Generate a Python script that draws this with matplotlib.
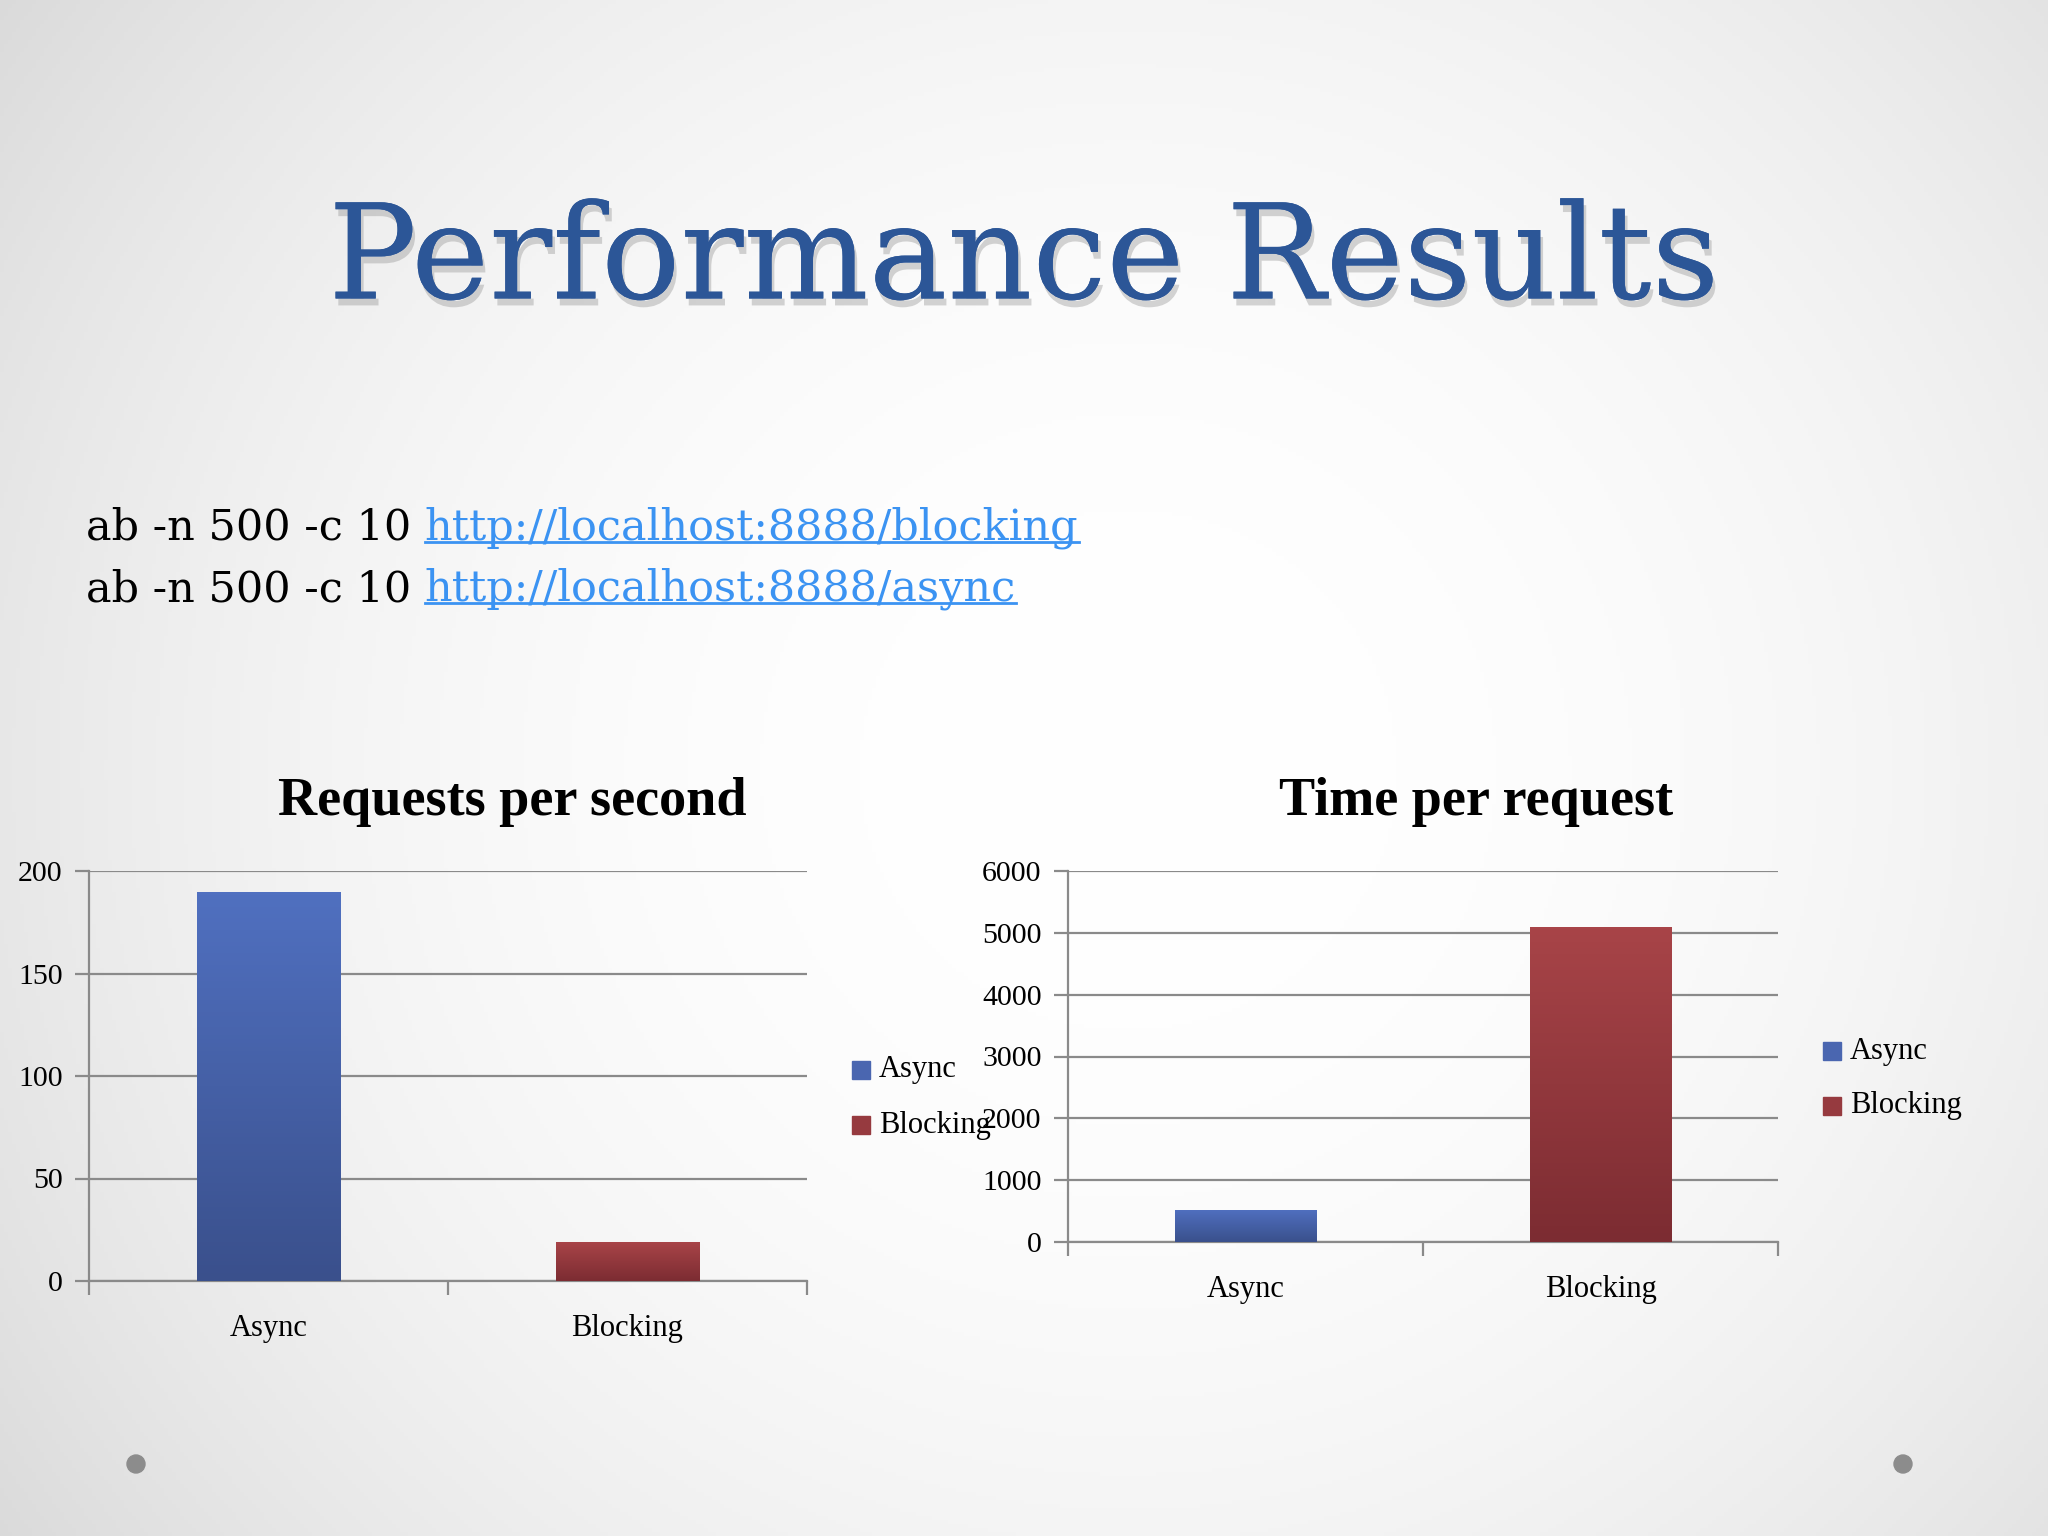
import numpy as np
import matplotlib
matplotlib.use('Agg')
import matplotlib.pyplot as plt
import matplotlib.patheffects as pe
from matplotlib.lines import Line2D
from matplotlib.patches import Ellipse, Rectangle

# data
categories = ['Async', 'Blocking']
requests_per_second = [190, 19]
time_per_request = [525, 5100]
rps_ticks = [0, 50, 100, 150, 200]
tpr_ticks = [0, 1000, 2000, 3000, 4000, 5000, 6000]
commands = ['ab -n 500 -c 10 ', 'ab -n 500 -c 10 ']
links = ['http://localhost:8888/blocking', 'http://localhost:8888/async']

W, H = 2048, 1536
serif = ['DejaVu Serif']
narrow = ['Liberation Serif', 'DejaVu Serif']
blue_top, blue_bot = np.array([80, 112, 192]) / 255, np.array([58, 80, 140]) / 255
red_top, red_bot = np.array([168, 68, 72]) / 255, np.array([124, 44, 50]) / 255

fig = plt.figure(figsize=(W / 100, H / 100), dpi=100)

# slide background: soft radial gradient
bg = fig.add_axes([0, 0, 1, 1], zorder=-10)
yy, xx = np.mgrid[0:H:4, 0:W:4]
r = np.sqrt(((xx - W * 0.55) / (W * 0.62)) ** 2 + ((yy - H * 0.5) / (H * 0.8)) ** 2)
shade = 1.0 - 0.12 * np.clip(r, 0, 1.2) ** 2.2
bg.imshow(np.dstack([shade, shade, shade]), extent=[0, W, H, 0], aspect='auto')
bg.set_xlim(0, W)
bg.set_ylim(H, 0)
bg.axis('off')

# main title with drop shadow
fig.text(0.5, 1 - 262 / H, 'Performance Results', family=serif, fontsize=95,
         color='#2c5697', ha='center', va='center',
         path_effects=[pe.withSimplePatchShadow(offset=(2, -5), shadow_rgbFace='#a0a0a0', alpha=0.45),
                       pe.Normal()])

# benchmark commands and underlined links
fig.canvas.draw()
renderer = fig.canvas.get_renderer()
for i, (cmd, link) in enumerate(zip(commands, links)):
    ypix = 528 + i * 61
    t = fig.text(86 / W, 1 - ypix / H, cmd, family=serif, fontsize=31, color='black',
                 ha='left', va='center')
    bb = t.get_window_extent(renderer)
    lt = fig.text(bb.x1 / W, 1 - ypix / H, link, family=serif, fontsize=31,
                  color='#3b93f2', ha='left', va='center')
    lb = lt.get_window_extent(renderer)
    uy = lb.y0 + 7
    fig.add_artist(Line2D([lb.x0 / W, lb.x1 / W], [uy / H, uy / H], color='#3b93f2', lw=2))


def bar_chart(rect, values, ticks, title, title_x, legend_pos):
    ax = fig.add_axes(rect)
    ax.set_facecolor('none')
    x = np.arange(len(categories))
    tops = [blue_top, red_top]
    bots = [blue_bot, red_bot]
    bars = ax.bar(x, values, width=0.4, color=['#4a66b0', '#963a3f'], zorder=3)
    grad = np.linspace(0, 1, 100)[:, None]
    for b, top, bot in zip(bars, tops, bots):
        img = top[None, None, :] * (1 - grad[..., None]) + bot[None, None, :] * grad[..., None]
        x0, w, h = b.get_x(), b.get_width(), b.get_height()
        im = ax.imshow(img, extent=[x0, x0 + w, 0, h], aspect='auto', zorder=4, origin='upper')
        im.set_clip_path(b)
    ax.set_xlim(-0.5, len(categories) - 0.5)
    ax.set_ylim(ticks[0], ticks[-1])
    ax.set_yticks(ticks)
    ax.set_yticklabels([str(t) for t in ticks], family=narrow, fontsize=21.5)
    ax.yaxis.grid(True, color='#8a8a8a', lw=1.6, zorder=1)
    ax.set_xticks(x)
    ax.set_xticklabels(categories, family=narrow, fontsize=22)
    ax.set_xticks(np.arange(len(categories) + 1) - 0.5, minor=True)
    ax.tick_params(axis='x', which='major', length=0, pad=24)
    ax.tick_params(axis='x', which='minor', length=10, color='#8a8a8a', width=1.6)
    ax.tick_params(axis='y', length=10, color='#8a8a8a', width=1.6, pad=9)
    for s in ['top', 'right']:
        ax.spines[s].set_visible(False)
    for s in ['left', 'bottom']:
        ax.spines[s].set_color('#8a8a8a')
        ax.spines[s].set_linewidth(1.6)
    fig.text(title_x / W, 1 - 802 / H, title, family=narrow, fontsize=39, fontweight='bold',
             ha='center', va='center', color='black')
    lx, ly = legend_pos
    for j, (name, col) in enumerate(zip(categories, ['#4a66b0', '#963a3f'])):
        yy_ = ly + j * 55
        fig.add_artist(Rectangle(((lx - 9) / W, 1 - (yy_ + 9) / H), 18 / W, 18 / H,
                                 transform=fig.transFigure, color=col))
        fig.text((lx + 18) / W, 1 - yy_ / H, name, family=narrow, fontsize=22,
                 ha='left', va='center')
    return ax


bar_chart([89 / W, 1 - 1281 / H, (807 - 89) / W, (1281 - 871) / H],
          requests_per_second, rps_ticks, 'Requests per second', 512, (861, 1070))
bar_chart([1068 / W, 1 - 1242 / H, (1778 - 1068) / W, (1242 - 871) / H],
          time_per_request, tpr_ticks, 'Time per request', 1476, (1832, 1051))

# slide footer dots
for dx in [136, 1903]:
    fig.add_artist(Ellipse((dx / W, 1 - 1464 / H), 18 / W, 18 / H, transform=fig.transFigure,
                           color='#8c8c8c'))

fig.savefig('out.png', dpi=100)
